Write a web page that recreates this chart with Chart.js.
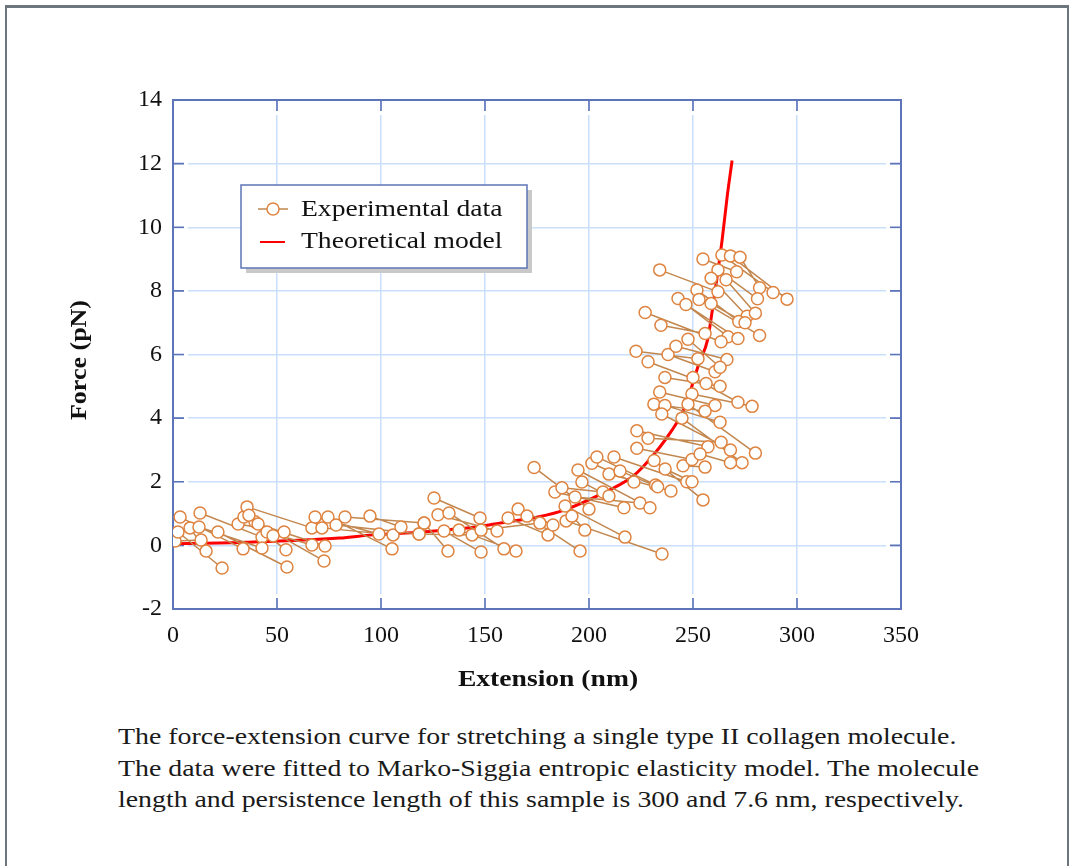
<!DOCTYPE html>
<html>
<head>
<meta charset="utf-8">
<script src="https://cdn.jsdelivr.net/npm/chart.js@4"></script>
<style>
  html, body { margin: 0; padding: 0; background: #fff; }
  #frame {
    position: absolute; left: 5px; top: 5px; width: 1060px; height: 900px;
    border-left: 2px solid #6d767c; border-right: 2px solid #6d767c; border-top: 3px solid #6d767c;
    background: #fff;
  }
  #wrap { position: absolute; left: 0; top: 0; width: 1073px; height: 720px; }
  #caption {
    position: absolute; left: 118px; top: 721px; width: 900px;
    font-family: "Liberation Serif", "DejaVu Serif", serif; font-size: 23px; line-height: 31.5px; color: #1a1a1a;
    transform: scaleX(1.21); transform-origin: 0 0; white-space: nowrap;
  }
</style>
</head>
<body>
<div id="frame"></div>
<div id="wrap"><canvas id="chart__1" width="1073" height="720"></canvas></div>
<div id="caption">The force-extension curve for stretching a single type II collagen molecule.<br>The data were fitted to Marko-Siggia entropic elasticity model. The molecule<br>length and persistence length of this sample is 300 and 7.6 nm, respectively.</div>
<script>
"use strict";

// experimental data: each trace piece runs from a start point to an end point
const expStartX = [1.0, 2.4, 3.4, 8.2, 13.0, 12.5, 21.6, 31.3, 34.1, 35.6, 39.4, 40.9, 45.2, 36.5,
  68.3, 74.5, 71.6, 78.4, 82.7, 94.7,
  125.5, 127.4, 120.7, 130.3, 132.7, 137.5, 118.3, 161.1, 165.9, 170.2, 173.6, 148.1,
  183.6, 187.0, 188.5, 189.0, 193.3, 194.7, 196.6, 201.4, 203.8, 209.6, 212.0, 191.8, 214.9,
  234.0, 254.8, 263.9, 268.0, 272.6, 262.0, 258.7, 251.9, 265.9, 242.8, 246.6, 252.9, 227.0, 234.6, 258.7,
  222.6, 228.4, 238.0, 241.8, 247.6, 236.5, 234.0, 231.2, 236.5, 249.5, 250.0, 223.0, 228.4, 235.0,
  244.7, 247.6, 231.3, 236.6, 245.2, 223.0, 253.4];
const expStartY = [0.14, 0.42, 0.89, 0.55, 1.02, 0.58, 0.42, 0.67, 0.89, 1.21, 0.74, 0.67, 0.42, 0.95,
  0.89, 0.89, 0.55, 0.64, 0.89, 0.92,
  1.49, 0.96, 0.70, 0.45, 1.02, 0.48, 0.36, 0.86, 1.14, 0.92, 2.45, 0.48,
  1.68, 1.81, 1.24, 0.77, 1.52, 2.37, 1.99, 2.58, 2.78, 2.24, 2.78, 0.92, 2.34,
  8.66, 9.00, 9.13, 9.10, 9.06, 8.66, 8.40, 8.03, 8.35, 7.76, 7.57, 7.73, 7.32, 6.92, 7.60,
  6.10, 5.77, 6.00, 6.26, 6.48, 5.28, 4.82, 4.44, 4.40, 4.76, 5.28, 3.60, 3.37, 4.13,
  4.00, 4.44, 2.67, 2.40, 2.50, 3.05, 2.87];
const expEndX = [13.5, 23.6, 33.7, 15.9, 42.8, 42.8, 54.8, 53.4, 54.3, 66.8, 72.6, 73.1, 66.8, 48.1,
  99.0, 105.3, 105.8, 118.3, 120.7, 109.6,
  147.6, 155.8, 132.2, 148.1, 159.1, 164.9, 143.8, 180.3, 182.7, 195.7, 200.0, 176.4,
  216.8, 206.7, 217.3, 235.1, 224.5, 229.3, 209.6, 221.6, 232.0, 239.4, 247.0, 198.0, 233.0,
  262.0, 271.0, 288.5, 295.2, 282.0, 281.0, 276.0, 272.0, 280.0, 266.8, 271.6, 282.0, 263.5, 255.8, 275.0,
  252.4, 256.3, 260.6, 266.3, 263.0, 263.0, 260.6, 255.8, 263.0, 278.4, 271.6, 257.2, 263.5, 268.0,
  273.6, 280.0, 254.8, 249.5, 255.8, 249.5, 268.0];
const expEndY = [0.17, -0.71, -0.11, -0.18, 0.26, -0.08, -0.68, 0.42, -0.14, 0.55, -0.49, -0.02, 0.01, 0.30,
  0.36, -0.11, 0.33, 0.36, 0.70, 0.58,
  0.86, 0.45, -0.18, -0.21, -0.11, -0.18, 0.33, 0.33, 0.64, -0.18, 1.14, 0.70,
  1.18, 1.68, 0.26, -0.27, 1.33, 1.18, 1.55, 1.99, 1.90, 1.71, 2.00, 0.48, 1.84,
  7.97, 8.60, 7.95, 7.74, 8.10, 7.75, 7.20, 7.04, 7.30, 6.56, 6.50, 6.60, 6.40, 6.66, 7.00,
  5.87, 5.09, 5.46, 5.84, 5.60, 5.00, 4.40, 4.22, 3.87, 4.37, 4.50, 3.10, 3.24, 3.00,
  2.60, 2.90, 1.43, 2.00, 2.46, 2.70, 2.60];

// theoretical model curve
const theoryX = [0, 35, 80, 96, 120, 148, 157, 176, 188, 205, 220, 226, 240, 246, 253, 257, 260, 264, 266.5, 268.8];
const theoryY = [0.05, 0.1, 0.23, 0.33, 0.42, 0.6, 0.7, 0.9, 1.11, 1.59, 2.12, 2.47, 3.63, 4.33, 5.74, 6.46, 7.72, 9.6, 11.0, 12.1];

const xTicks = [0, 50, 100, 150, 200, 250, 300, 350];
const yTicks = [-2, 0, 2, 4, 6, 8, 10, 12, 14];
const xTitle = "Extension (nm)";
const yTitle = "Force (pN)";

const serif = "'Liberation Serif', 'DejaVu Serif', serif";
const expColor = "#de8440";
const expLine = "#c2874e";
const frameColor = "#5e74b8";

const expData = [];
for (let i = 0; i < expStartX.length; i++) {
  expData.push({ x: expStartX[i], y: expStartY[i] });
  expData.push({ x: expEndX[i], y: expEndY[i] });
  expData.push({ x: expEndX[i], y: null });
}
const theoryData = theoryX.map((v, i) => ({ x: v, y: theoryY[i] }));

const framePlugin = {
  id: "frame",
  beforeDatasetsDraw(chart) {
    const { ctx, chartArea: { left, right, top, bottom }, scales: { x, y } } = chart;
    ctx.save();
    ctx.lineWidth = 3;
    ctx.strokeStyle = "#ffffff";
    ctx.beginPath();
    xTicks.forEach((v) => {
      const px = x.getPixelForValue(v);
      ctx.moveTo(px, top + 11); ctx.lineTo(px, top + 15);
      ctx.moveTo(px, bottom - 11); ctx.lineTo(px, bottom - 15);
    });
    yTicks.forEach((v) => {
      const py = y.getPixelForValue(v);
      ctx.moveTo(left + 11, py); ctx.lineTo(left + 15, py);
      ctx.moveTo(right - 11, py); ctx.lineTo(right - 15, py);
    });
    ctx.stroke();
    ctx.strokeStyle = frameColor;
    ctx.lineWidth = 1.6;
    ctx.beginPath();
    xTicks.forEach((v) => {
      const px = x.getPixelForValue(v);
      ctx.moveTo(px, top); ctx.lineTo(px, top + 11);
      ctx.moveTo(px, bottom); ctx.lineTo(px, bottom - 11);
    });
    yTicks.forEach((v) => {
      const py = y.getPixelForValue(v);
      ctx.moveTo(left, py); ctx.lineTo(left + 11, py);
      ctx.moveTo(right, py); ctx.lineTo(right - 11, py);
    });
    ctx.stroke();
    ctx.lineWidth = 2;
    ctx.strokeRect(left, top, right - left, bottom - top);
    ctx.restore();
  },
};

// axis titles and legend use a slightly widened serif face
const textPlugin = {
  id: "legendBox",
  afterDraw(chart) {
    const { ctx, chartArea } = chart;
    ctx.save();
    ctx.fillStyle = "#111";
    ctx.textAlign = "center";
    ctx.textBaseline = "middle";
    ctx.font = "bold 23px " + serif;
    ctx.save();
    ctx.translate((chartArea.left + chartArea.right) / 2 + 11, 680);
    ctx.scale(1.2, 1);
    ctx.fillText(xTitle, 0, 0);
    ctx.restore();
    ctx.save();
    ctx.translate(80, 360);
    ctx.rotate(-Math.PI / 2);
    ctx.scale(1.13, 1);
    ctx.fillText(yTitle, 0, 0);
    ctx.restore();

    const bx = 241, by = 185, bw = 286, bh = 83;
    ctx.fillStyle = "#c9c9c9";
    ctx.fillRect(bx + 5, by + 5, bw, bh);
    ctx.fillStyle = "#ffffff";
    ctx.fillRect(bx, by, bw, bh);
    ctx.strokeStyle = frameColor;
    ctx.lineWidth = 1.5;
    ctx.strokeRect(bx, by, bw, bh);
    ctx.strokeStyle = expLine;
    ctx.beginPath();
    ctx.moveTo(bx + 17, by + 24); ctx.lineTo(bx + 47, by + 24);
    ctx.stroke();
    ctx.beginPath();
    ctx.arc(bx + 32, by + 24, 6, 0, Math.PI * 2);
    ctx.fillStyle = "#fff";
    ctx.fill();
    ctx.strokeStyle = expColor;
    ctx.stroke();
    ctx.strokeStyle = "#ff0000";
    ctx.lineWidth = 2;
    ctx.beginPath();
    ctx.moveTo(bx + 19, by + 57); ctx.lineTo(bx + 44, by + 57);
    ctx.stroke();
    ctx.fillStyle = "#111";
    ctx.font = "23px " + serif;
    ctx.textAlign = "left";
    const labels = [chart.data.datasets[0].label, chart.data.datasets[1].label];
    labels.forEach((t, i) => {
      ctx.save();
      ctx.translate(bx + 60, by + 25 + i * 32);
      ctx.scale(1.2, 1);
      ctx.fillText(t, 0, 0);
      ctx.restore();
    });
    ctx.restore();
  },
};

const chart__1 = new Chart(document.getElementById("chart__1").getContext("2d"), {
  type: "line",
  data: {
    datasets: [
      {
        label: "Experimental data",
        data: expData,
        borderColor: expLine,
        borderWidth: 1.5,
        pointRadius: 6,
        pointBorderWidth: 1.5,
        pointBorderColor: expColor,
        pointBackgroundColor: "#ffffff",
        spanGaps: false,
        order: 0,
      },
      {
        label: "Theoretical model",
        data: theoryData,
        borderColor: "#ff0000",
        borderWidth: 3,
        pointRadius: 0,
        cubicInterpolationMode: "monotone",
        order: 1,
      },
    ],
  },
  options: {
    responsive: false,
    animation: false,
    layout: { padding: { top: 100, right: 172, left: 0, bottom: 0 } },
    plugins: { legend: { display: false }, tooltip: { enabled: false } },
    scales: {
      x: {
        type: "linear",
        min: 0,
        max: 350,
        afterBuildTicks: (s) => { s.ticks = xTicks.map((v) => ({ value: v })); },
        afterFit: (s) => { s.height = 111; },
        grid: { color: "#cadffb", lineWidth: 1.5, drawTicks: false },
        border: { display: false },
        ticks: { color: "#111", padding: 12, font: { family: serif, size: 24 } },
      },
      y: {
        type: "linear",
        min: -2,
        max: 14,
        afterBuildTicks: (s) => { s.ticks = yTicks.map((v) => ({ value: v })); },
        afterFit: (s) => { s.width = 173; },
        grid: { color: "#cadffb", lineWidth: 1.5, drawTicks: false },
        border: { display: false },
        ticks: { color: "#111", padding: 11, font: { family: serif, size: 24 } },
      },
    },
  },
  plugins: [framePlugin, textPlugin],
});
</script>
</body>
</html>
